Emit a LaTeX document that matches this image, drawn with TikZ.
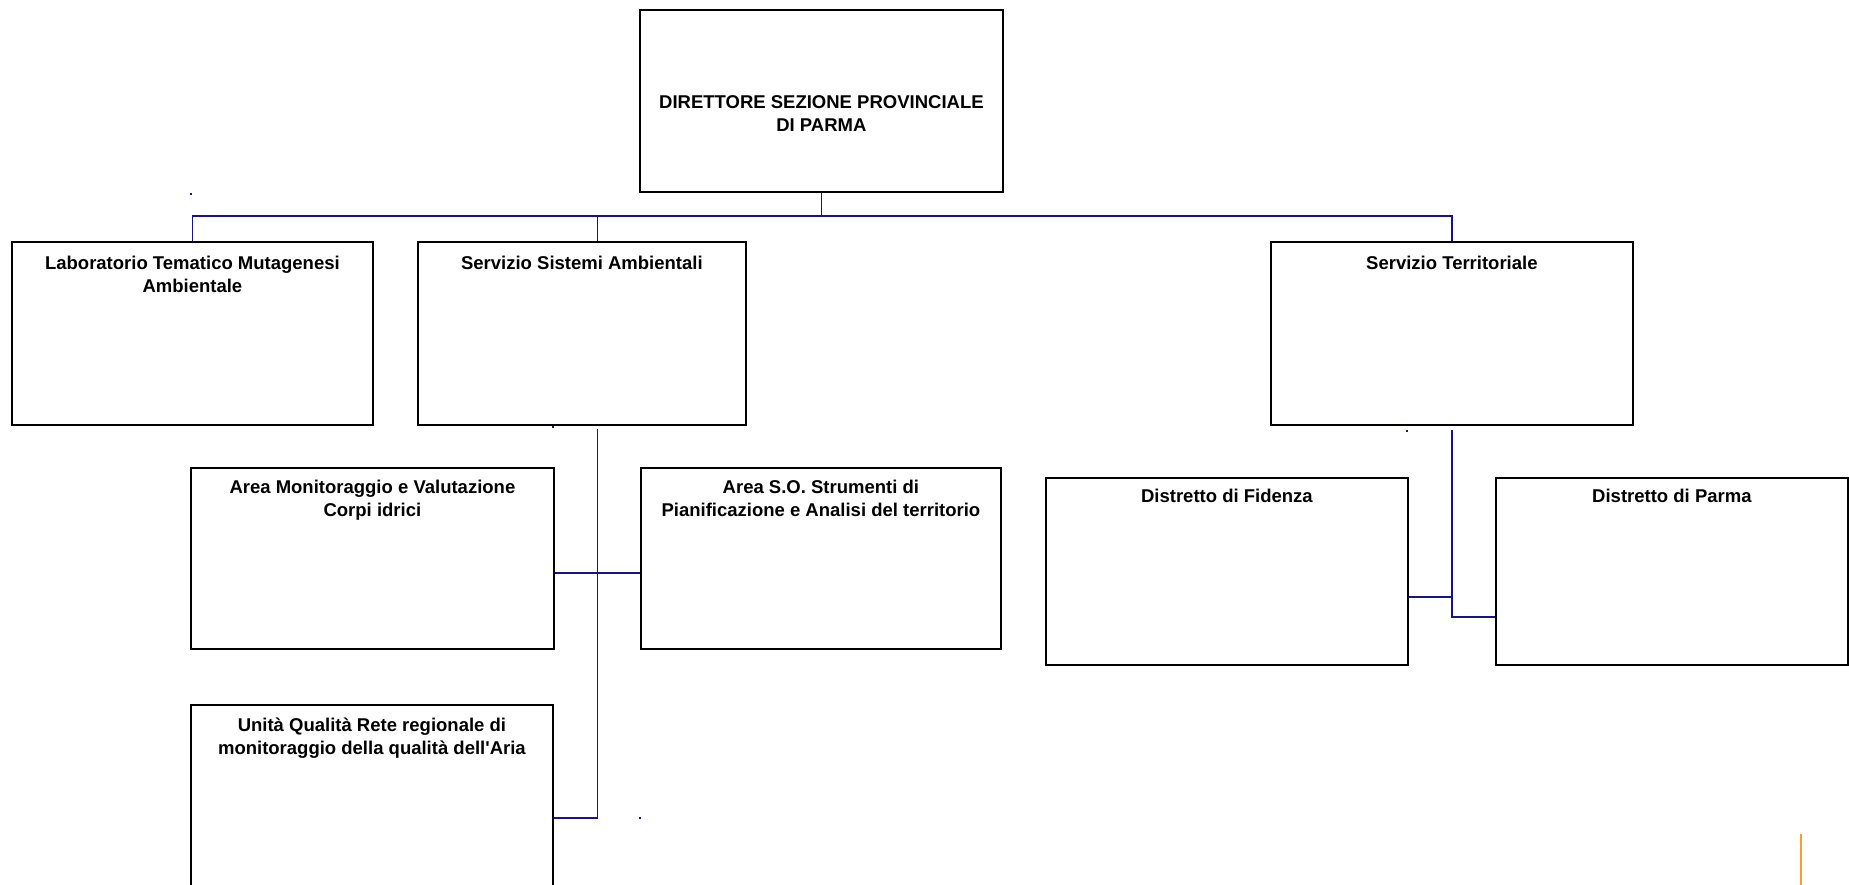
\documentclass[tikz,border=0pt]{standalone}
\usepackage{fontspec}
\setmainfont{Liberation Sans}
\usetikzlibrary{positioning, calc}
\definecolor{LinkBlue}{HTML}{14148C}
\definecolor{EdgeOrange}{HTML}{F0A035}
\tikzset{
  obox/.style={draw=black, line width=1.8pt, rectangle, anchor=north west, inner sep=0pt},
  otext/.style={anchor=north, align=center, inner sep=0pt,
    font=\bfseries\fontsize{18.5}{23}\selectfont},
  link/.style={draw=LinkBlue, line width=1.6pt},
  speck/.style={fill=LinkBlue},
}

\begin{document}
\begin{tikzpicture}[x=1pt, y=-1pt]
    \useasboundingbox (0,0) rectangle (1849,885);
    \clip (0,0) rectangle (1849,885);
    % boxes
    \node[obox, minimum width=363pt, minimum height=182pt] (dir) at (639,9) {};
    \node[otext, below=86pt of dir.north] (dirt) {DIRETTORE SEZIONE PROVINCIALE\\DI PARMA};
    \node[obox, minimum width=361pt, minimum height=183pt] (lab) at (11,241) {};
    \node[otext, below=15pt of lab.north] (labt) {Laboratorio Tematico Mutagenesi\\Ambientale};
    \node[obox, minimum width=328pt, minimum height=183pt] (sist) at (417,241) {};
    \node[otext, below=15pt of sist.north] (sistt) {Servizio Sistemi Ambientali};
    \node[obox, minimum width=362pt, minimum height=183pt] (terr) at (1270,241) {};
    \node[otext, below=15pt of terr.north] (terrt) {Servizio Territoriale};
    \node[obox, minimum width=363pt, minimum height=181pt] (mon) at (190,467) {};
    \node[otext, below=13pt of mon.north] (mont) {Area Monitoraggio e Valutazione\\Corpi idrici};
    \node[obox, minimum width=360pt, minimum height=181pt] (so) at (640,467) {};
    \node[otext, below=13pt of so.north] (sot) {Area S.O. Strumenti di\\Pianificazione e Analisi del territorio};
    \node[obox, minimum width=362pt, minimum height=220pt] (uni) at (190,704) {};
    \node[otext, below=14pt of uni.north] (unit) {Unità Qualità Rete regionale di\\monitoraggio della qualità dell\textquotesingle Aria};
    \node[obox, minimum width=362pt, minimum height=187pt] (fid) at (1045,477) {};
    \node[otext, below=12pt of fid.north] (fidt) {Distretto di Fidenza};
    \node[obox, minimum width=352pt, minimum height=187pt] (par) at (1495,477) {};
    \node[otext, below=12pt of par.north] (part) {Distretto di Parma};
    % connectors
    \coordinate (bus) at (0,216);
    \coordinate (sspine) at ($(mon.east)!0.5!(so.west)$);
    \coordinate (tspine) at ($(fid.east)!0.5!(par.west)$);
    \coordinate (monlink) at (0,573);
    \coordinate (unilink) at (0,818);
    \coordinate (fidlink) at (0,597);
    \coordinate (parlink) at (0,617);
    \draw[link] (dir.south) -- (dir.south |- bus);
    \draw[link] (lab.north) -- (lab.north |- bus) -- (terr.north |- bus) -- (terr.north);
    \draw[link] (sspine |- bus) -- (sspine |- sist.north);
    \draw[link] ($(sspine |- sist.south)+(0,3)$) -- (sspine |- unilink) -- (uni.east |- unilink);
    \draw[link] (mon.east |- monlink) -- (so.west |- monlink);
    \draw[link] ($(tspine |- terr.south)+(0,4)$) -- (tspine |- parlink) -- (par.west |- parlink);
    \draw[link] (fid.east |- fidlink) -- (tspine |- fidlink);
    % stray marks
    \fill[speck] (190,193) rectangle ++(2,2);
    \fill[speck] (552,426) rectangle ++(2,2);
    \fill[speck] (1406,430) rectangle ++(2,2);
    \fill[speck] (639,817) rectangle ++(2,2);
    \draw[EdgeOrange, line width=1.3pt] (1801,834) -- (1801,885);
\end{tikzpicture}
\end{document}
